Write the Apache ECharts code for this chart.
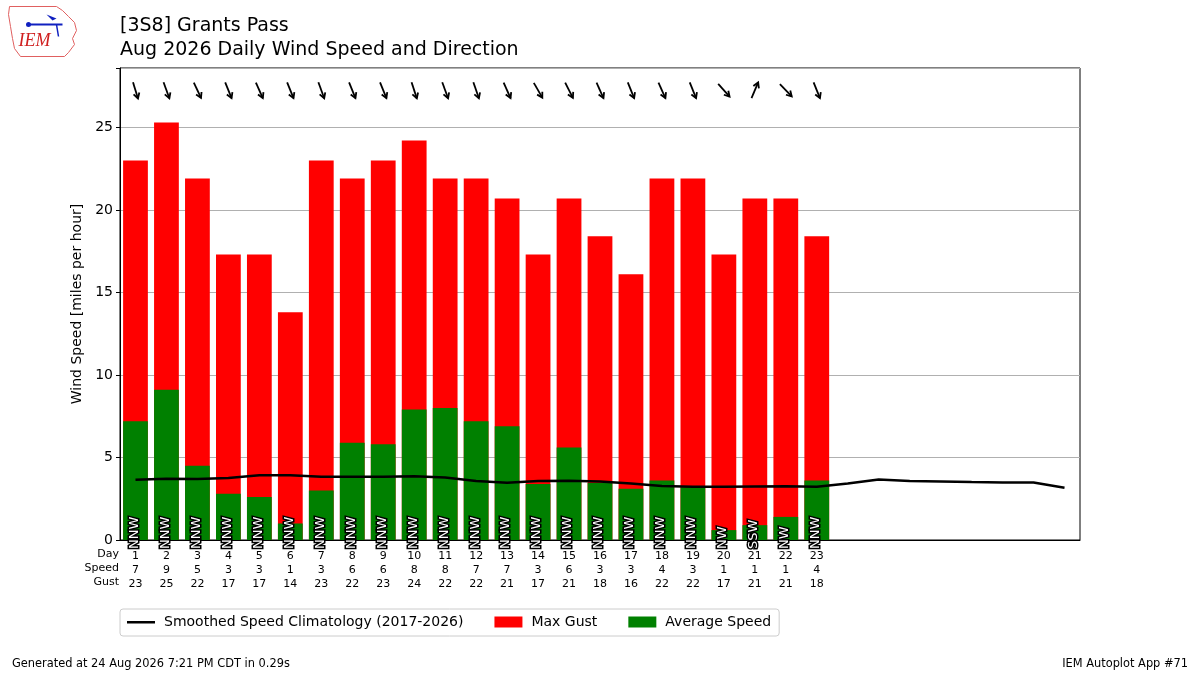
<!DOCTYPE html>
<html lang="en" style="height: 100%">
<head>
    <meta charset="utf-8">
    <title>Grants Pass daily wind</title>
    <style>
        body { margin: 0; background: #fff; }
        #chart { width: 1200px; height: 675px; }
    </style>
</head>
<body>
<div id="chart"></div>
<script src="https://cdn.jsdelivr.net/npm/echarts@6/dist/echarts.min.js"></script>
<script>
    // days of month shown on the x axis
    const days = ['1','2','3','4','5','6','7','8','9','10','11','12','13','14','15','16',
        '17','18','19','20','21','22','23','24','25','26','27','28','29','30','31'];
    // daily values, miles per hour
    const avgSpeed = [7.2, 9.1, 4.5, 2.8, 2.6, 1.0, 3.0, 5.9, 5.8, 7.9, 8.0, 7.2, 6.9,
        3.4, 5.6, 3.45, 3.1, 3.6, 3.2, 0.6, 0.9, 1.4, 3.6];
    const maxGust = [23.0, 25.3, 21.9, 17.3, 17.3, 13.8, 23.0, 21.9, 23.0, 24.2, 21.9, 21.9,
        20.7, 17.3, 20.7, 18.4, 16.1, 21.9, 21.9, 17.3, 20.7, 20.7, 18.4];
    const speedLabels = ['7','9','5','3','3','1','3','6','6','8','8','7','7','3','6','3','3','4','3','1','1','1','4'];
    const gustLabels = ['23','25','22','17','17','14','23','22','23','24','22','22','21','17','21','18','16','22','22','17','21','21','18'];
    const dirText = ['NNW','NNW','NNW','NNW','NNW','NNW','NNW','NNW','NNW','NNW','NNW','NNW',
        'NNW','NNW','NNW','NNW','NNW','NNW','NNW','NW','SSW','NW','NNW'];
    // mean direction wind blows from, degrees
    const dirDeg = [343, 340, 335, 338, 336, 338, 340, 338, 338, 342, 340, 341,
        336, 330, 333, 336, 338, 336, 338, 318, 203, 316, 338];
    // smoothed climatology for every day of the month
    const climo = [3.65, 3.71, 3.69, 3.75, 3.93, 3.93, 3.83, 3.83, 3.83, 3.87, 3.79, 3.57,
        3.47, 3.57, 3.59, 3.55, 3.43, 3.27, 3.23, 3.23, 3.24, 3.25, 3.23, 3.42, 3.67,
        3.57, 3.55, 3.51, 3.49, 3.49, 3.17];

    const FONT = 'DejaVu Sans';
    const ARROW_Y = 27.25;
    // flat line icon for the legend, padded to the full icon height
    const LINE_ICON = 'path://M0,0L0.01,0L0.01,0.01Z M0,4L28,4L28,6.4L0,6.4Z M0,10L0.01,10L0.01,9.99Z';

    const chart = echarts.init(document.getElementById('chart'));

    const arrowData = dirDeg.map((d, i) => [i, ARROW_Y, d]);
    const labelData = dirText.map((t, i) => [i, 0, t]);

    chart.setOption({
        animation: false,
        textStyle: { fontFamily: FONT },
        title: {
            text: '[3S8] Grants Pass\nAug 2026 Daily Wind Speed and Direction',
            left: 115, top: 9,
            textStyle: { fontSize: 19, fontWeight: 'normal', color: '#000', lineHeight: 24, fontFamily: FONT }
        },
        grid: {
            left: 120, right: 120, top: 68, bottom: 135,
            show: true, borderColor: '#000', borderWidth: 1, backgroundColor: 'transparent'
        },
        legend: {
            left: 120, top: 609,
            padding: [6, 8, 7, 7],
            itemGap: 31,
            itemWidth: 28, itemHeight: 11,
            borderColor: '#cccccc', borderWidth: 1, borderRadius: 3,
            textStyle: { fontSize: 14, color: '#000', fontFamily: FONT, padding: [0, 0, 0, 4] },
            data: [
                { name: 'Smoothed Speed Climatology (2017-2026)', icon: LINE_ICON },
                { name: 'Max Gust', icon: 'rect' },
                { name: 'Average Speed', icon: 'rect' }
            ]
        },
        xAxis: {
            type: 'category',
            data: days,
            axisLine: { lineStyle: { color: '#000' } },
            axisTick: { show: false },
            axisLabel: {
                interval: 0,
                margin: 9,
                fontSize: 11,
                lineHeight: 14,
                color: '#000',
                formatter: (v, i) => i < speedLabels.length ? v + '\n' + speedLabels[i] + '\n' + gustLabels[i] : ''
            }
        },
        yAxis: {
            type: 'value',
            min: 0, max: 28.6, interval: 5,
            name: 'Wind Speed [miles per hour]',
            nameLocation: 'middle',
            nameGap: 34,
            nameTextStyle: { fontSize: 14, color: '#000', fontFamily: FONT },
            axisLine: { show: true, lineStyle: { color: '#000' } },
            axisTick: { show: true, length: 4, lineStyle: { color: '#000' } },
            axisLabel: {
                fontSize: 14, color: '#000', margin: 7,
                formatter: v => (v % 5 === 0 ? v : '')
            },
            splitLine: { lineStyle: { color: '#b0b0b0', width: 1 } }
        },
        series: [
            {
                name: 'Max Gust',
                type: 'bar',
                data: maxGust,
                barWidth: '80%',
                barGap: '-100%',
                itemStyle: { color: '#ff0000' },
                z: 2
            },
            {
                name: 'Average Speed',
                type: 'bar',
                data: avgSpeed,
                barWidth: '80%',
                itemStyle: { color: '#008000' },
                z: 3
            },
            {
                name: 'Smoothed Speed Climatology (2017-2026)',
                type: 'line',
                data: climo,
                symbol: 'none',
                lineStyle: { color: '#000', width: 2.5 },
                itemStyle: { color: '#000' },
                z: 5
            },
            {
                // direction text inside the bars
                type: 'custom',
                data: labelData,
                encode: { x: 0, y: 1 },
                z: 6,
                silent: true,
                renderItem: (params, api) => {
                    const p = api.coord([api.value(0), 0]);
                    return {
                        type: 'text',
                        x: p[0] - 1, y: p[1] + 9,
                        rotation: Math.PI / 2,
                        style: {
                            text: dirText[params.dataIndex],
                            fontSize: 13,
                            fontFamily: FONT,
                            fill: '#fff',
                            stroke: '#000',
                            lineWidth: 3,
                            strokeFirst: true,
                            align: 'left',
                            verticalAlign: 'middle'
                        }
                    };
                }
            },
            {
                // arrows show where the wind is going
                type: 'custom',
                data: arrowData,
                encode: { x: 0, y: 1 },
                z: 6,
                silent: true,
                renderItem: (params, api) => {
                    const c = api.coord([api.value(0), api.value(1)]);
                    const to = (api.value(2) + 180) * Math.PI / 180;
                    const dx = Math.sin(to), dy = -Math.cos(to);
                    const L = 8.5;
                    const tail = [c[0] - dx * L, c[1] - dy * L];
                    const tip = [c[0] + dx * L, c[1] + dy * L];
                    const h = 6, a = 30 * Math.PI / 180;
                    const back = Math.atan2(-dy, -dx);
                    const h1 = [tip[0] + h * Math.cos(back + a), tip[1] + h * Math.sin(back + a)];
                    const h2 = [tip[0] + h * Math.cos(back - a), tip[1] + h * Math.sin(back - a)];
                    return {
                        type: 'group',
                        children: [
                            { type: 'line', shape: { x1: tail[0], y1: tail[1], x2: tip[0], y2: tip[1] },
                              style: { stroke: '#000', lineWidth: 1.8 } },
                            { type: 'polyline', shape: { points: [h1, tip, h2] },
                              style: { stroke: '#000', lineWidth: 1.8, fill: null } }
                        ]
                    };
                }
            }
        ],
        graphic: [
            { type: 'text', right: 1081, top: 549, style: { text: 'Day', font: '11px "DejaVu Sans"', fill: '#000', align: 'right' } },
            { type: 'text', right: 1081, top: 563, style: { text: 'Speed', font: '11px "DejaVu Sans"', fill: '#000', align: 'right' } },
            { type: 'text', right: 1081, top: 577, style: { text: 'Gust', font: '11px "DejaVu Sans"', fill: '#000', align: 'right' } },
            { type: 'text', left: 12, top: 659, style: { text: 'Generated at 24 Aug 2026 7:21 PM CDT in 0.29s', font: '11.4px "DejaVu Sans"', fill: '#000' } },
            { type: 'text', right: 12, top: 659, style: { text: 'IEM Autoplot App #71', font: '11.4px "DejaVu Sans"', fill: '#000' } },
            {
                // rough IEM logo
                type: 'group', left: 8, top: 6,
                children: [
                    { type: 'polyline', shape: { points: [[3,2],[50,2],[56,6],[62,12],[68,18],[70,26],[66,34],[68,40],[62,48],[58,52],[14,52],[8,44],[6,34],[4,22],[2,10],[3,2]] },
                      style: { stroke: '#e06060', lineWidth: 1, fill: '#fff' } },
                    { type: 'line', shape: { x1: 22, y1: 20, x2: 56, y2: 20 }, style: { stroke: '#1020c0', lineWidth: 2 } },
                    { type: 'circle', shape: { cx: 22, cy: 20, r: 2.5 }, style: { fill: '#1020c0' } },
                    { type: 'polygon', shape: { points: [[40,10],[50,14],[46,16]] }, style: { fill: '#1020c0' } },
                    { type: 'line', shape: { x1: 50, y1: 20, x2: 52, y2: 32 }, style: { stroke: '#1020c0', lineWidth: 1.5 } },
                    { type: 'text', x: 12, y: 28, style: { text: 'IEM', font: 'italic 18px "Liberation Serif"', fill: '#d02020' } }
                ]
            }
        ]
    });
</script>
</body>
</html>
